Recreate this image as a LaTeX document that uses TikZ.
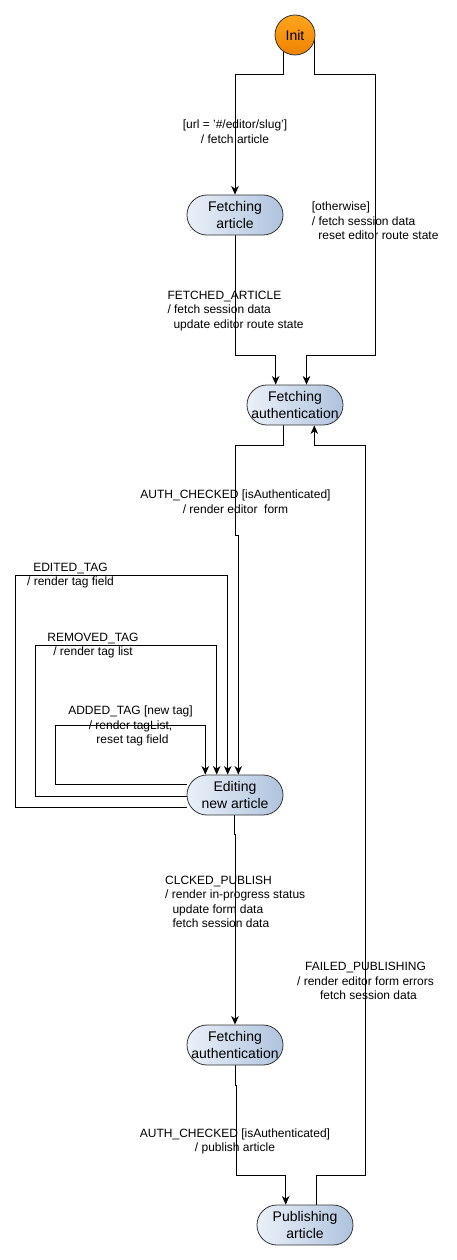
\documentclass[tikz,border=0pt]{standalone}
\usepackage{fontspec}
\setmainfont{Liberation Sans}
\usetikzlibrary{arrows.meta,backgrounds}
\definecolor{stlight}{HTML}{EAF0F8}
\definecolor{stdark}{HTML}{AFC3DE}
\definecolor{orlight}{HTML}{FFA51E}
\definecolor{ordark}{HTML}{EE8200}
\definecolor{stborder}{HTML}{333333}
\tikzset{
  stnode/.style={draw=stborder, line width=0.8pt, rounded corners=19.9pt,
    minimum width=96pt, minimum height=40pt, inner sep=0pt, align=center,
    left color=stlight, right color=stdark,
    font=\fontsize{14}{17}\selectfont},
  initnode/.style={circle, draw=stborder, line width=0.8pt, minimum size=40pt,
    inner sep=0pt, top color=orlight, bottom color=ordark,
    font=\fontsize{14}{17}\selectfont},
  edge/.style={draw=black, line width=1pt, -{Stealth[length=8.5pt,width=7.5pt,inset=2.5pt]}},
  lbl/.style={inner sep=0pt, font=\fontsize{12}{14.5}\selectfont},
}
\begin{document}
\begin{tikzpicture}[x=1pt,y=-1pt]
\useasboundingbox (0,0) rectangle (456,1260);
\node[initnode] (init) at (295,35) {Init};
\node[stnode] (fa) at (235,215) {Fetching\\article};
\node[stnode] (auth1) at (295,405) {Fetching\\authentication};
\node[stnode] (edit) at (235,795) {Editing\\new article};
\node[stnode] (auth2) at (235,1045) {Fetching\\authentication};
\node[stnode] (pub) at (305,1225) {Publishing\\article};

\begin{scope}[on background layer]
\draw[edge] ([xshift=-11.7pt]init.center) |- (235,75) -- (fa.north);
\draw[edge] ([xshift=19.3pt]init.center) |- (375.5,75) -- (375.5,355) -| ([xshift=11.5pt]auth1.north);
\draw[edge] (fa.south) -- (235,355) -| ([xshift=-19.3pt]auth1.north);
\draw[edge] ([xshift=-11.7pt]auth1.south) |- (235.7,445) -- (235.7,535) -- (238.3,535) -- ([xshift=3.3pt]edit.north);
\draw[edge] ([yshift=-12.3pt]edit.west) -- (15.3,807.3) -- (15.3,575.7) -- (227.7,575.7) -- ([xshift=-7.3pt]edit.north);
\draw[edge] ([yshift=-1pt]edit.west) -- (35.3,796) -- (35.3,645.7) -- (216.7,645.7) -- ([xshift=-18.3pt]edit.north);
\draw[edge] ([yshift=10.7pt]edit.west) -- (55,784.3) -- (55,725.7) -- (205.3,725.7) -- ([xshift=-29.7pt]edit.north);
\draw[edge] ([xshift=-0.7pt]edit.south) -- (234.3,834) -- (235,834) -- (auth2.north);
\draw[edge] (auth2.south) -- (235,1085) -- (236,1085) -- (236,1175) -| ([xshift=-19.3pt]pub.north);
\draw[edge] ([xshift=11pt]pub.north) |- (365.7,1175) -- (365.7,445) -| ([xshift=19.3pt]auth1.south);
\end{scope}

\node[lbl, align=center] (l1) at (235,131.7) {[url = '\#/editor/slug']\\/ fetch article};
\node[lbl, align=left, anchor=west] (l2) at (311.7,221) {[otherwise]\\/ fetch session data\\\hspace*{6.5pt}reset editor route state};
\node[lbl, align=left, anchor=west] (l3) at (167.3,311) {FETCHED\_ARTICLE\\/ fetch session data\\\hspace*{6pt}update editor route state};
\node[lbl, align=center] (l4) at (235.5,501.5) {AUTH\_CHECKED [isAuthenticated]\\/ render editor\ \ form};
\node[lbl, align=center] (l5) at (70.5,575.7) {EDITED\_TAG\\/ render tag field};
\node[lbl, align=center] (l6) at (93,645.7) {REMOVED\_TAG\\/ render tag list};
\node[lbl, align=center] (l7) at (130.5,726.2) {ADDED\_TAG [new tag]\\/ render tagList,\\\hspace*{4pt}reset tag field};
\node[lbl, align=left, anchor=west] (l8) at (165,901.8) {CLCKED\_PUBLISH\\/ render in-progress status\\\hspace*{7.3pt}update form data\\\hspace*{7.3pt}fetch session data};
\node[lbl, align=center] (l9) at (365.5,981.3) {FAILED\_PUBLISHING\\/ render editor form errors\\\hspace*{6pt}fetch session data};
\node[lbl, align=center] (l10) at (235,1141.2) {AUTH\_CHECKED [isAuthenticated]\\/ publish article};
\end{tikzpicture}
\end{document}
